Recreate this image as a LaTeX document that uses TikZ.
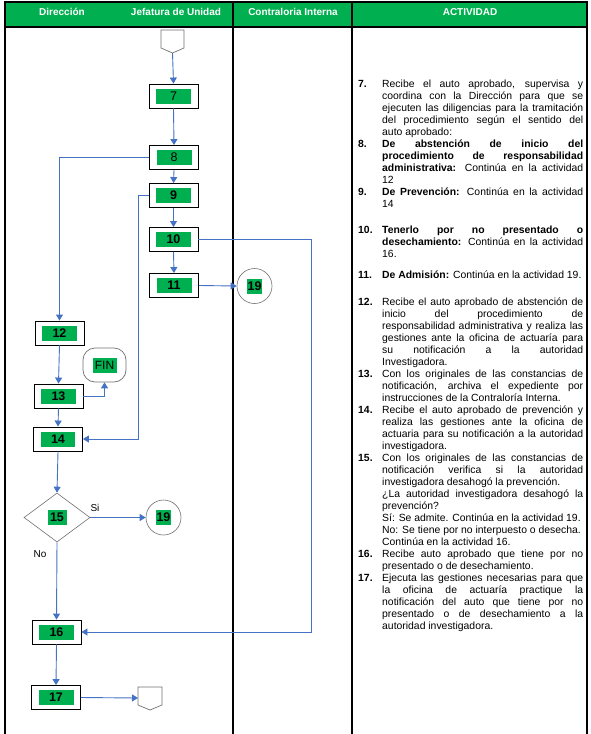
\documentclass[tikz,border=0pt]{standalone}
\usepackage{fontspec}
\setmainfont{Liberation Sans}
\usetikzlibrary{arrows.meta,shapes.geometric}
\definecolor{hgreen}{HTML}{00B050}
\definecolor{lblue}{HTML}{4472C4}
\definecolor{sgray}{HTML}{707070}
\setlength{\fboxsep}{0pt}
\newcommand\gl[2]{\colorbox{hgreen}{\parbox[c][15pt][c]{#1}{\centering #2}}}
\newcommand\actitem[2]{\par\noindent\hangindent=24pt\hangafter=1\makebox[24pt][l]{\textbf{#1}}#2\par}
\begin{document}
\begin{tikzpicture}[x=1pt,y=-1pt,
  tbl/.style={line width=1.1pt,black},
  hdr/.style={text=white,font=\fontsize{10}{12}\selectfont\bfseries,anchor=base,inner sep=0pt},
  actbox/.style={draw=black,line width=0.9pt,fill=white,minimum width=49pt,minimum height=24pt,inner sep=0pt,font=\fontsize{12.5}{13}\selectfont\bfseries},
  circ/.style={circle,draw=sgray,line width=0.6pt,minimum size=35pt,inner sep=0pt,font=\fontsize{12.5}{13}\selectfont\bfseries},
  offpage/.style={draw=sgray,line width=0.7pt,fill=white},
  flow/.style={draw=lblue,line width=0.9pt,-{Triangle[width=7pt,length=6pt]}},
  lbl/.style={font=\fontsize{10}{12}\selectfont,inner sep=0pt},
  acttext/.style={anchor=north west,inner sep=0pt,text width=225pt,align=justify,font=\fontsize{10.4}{12}\selectfont}]
\useasboundingbox (0,0) rectangle (590,734);
% table
\fill[hgreen] (5,2) rectangle (587,27);
\draw[tbl] (5,734) -- (5,2) -- (587,2) -- (587,734);
\draw[tbl] (5,27) -- (587,27);
\draw[tbl] (233,2) -- (233,734);
\draw[tbl] (352,2) -- (352,734);
\node[hdr] (h1) at (62,15.5) {Dirección};
\node[hdr] (h2) at (176,15.5) {Jefatura de Unidad};
\node[hdr] (h3) at (293,15.5) {Contraloria Interna};
\node[hdr] (h4) at (470,15.5) {ACTIVIDAD};
% off-page connectors
\draw[offpage] (161,30) -- (184,30) -- (184,48) -- (172.5,53) -- (161,48) -- cycle;
\coordinate (op1) at (172.5,53);
\draw[offpage] (138,687) -- (162,687) -- (162,705) -- (150,710) -- (138,705) -- cycle;
\coordinate (op2) at (138,698);
% boxes
\node[actbox,font=\fontsize{12.5}{13}\selectfont] (b7) at (173.5,96) {\gl{35pt}{7}};
\node[actbox,font=\fontsize{12.5}{13}\selectfont] (b8) at (174,157.5) {\gl{35pt}{8}};
\node[actbox] (b9) at (173.5,195.5) {\gl{35pt}{9}};
\node[actbox] (b10) at (173.5,239.5) {\gl{35pt}{10}};
\node[actbox] (b11) at (174,285.5) {\gl{35pt}{11}};
\node[actbox] (b12) at (59.5,333) {\gl{35pt}{12}};
\node[actbox] (b13) at (58.5,396) {\gl{35pt}{13}};
\node[actbox] (b14) at (58,439) {\gl{35pt}{14}};
\node[actbox] (b16) at (56.5,632) {\gl{35pt}{16}};
\node[actbox] (b17) at (56,697.5) {\gl{35pt}{17}};
\node[circ] (c19a) at (254.5,286) {\gl{15pt}{19}};
\node[circ] (c19b) at (163.5,517.5) {\gl{15pt}{19}};
\node[draw=sgray,line width=0.7pt,rounded corners=12pt,minimum width=43pt,minimum height=34pt,inner sep=0pt,font=\fontsize{12}{13}\selectfont] (fin) at (104.5,365) {\gl{24pt}{FIN}};
\node[diamond,draw=sgray,line width=0.6pt,minimum width=66pt,minimum height=49pt,inner sep=0pt,font=\fontsize{12.5}{13}\selectfont\bfseries] (d15) at (57,517.5) {\gl{19pt}{15}};
\node[lbl] (lsi) at (95,508) {Si};
\node[lbl] (lno) at (40,554) {No};
% connectors
\draw[flow] (op1) -- (b7.north);
\draw[flow] (b7.south) -- (b8.north);
\draw[flow] (b8.west) -| (b12.north);
\draw[flow] (b8.south) -- (b9.north);
\coordinate (c9) at (138,0);
\draw[flow] (b9.west) -- (b9.west -| c9) |- (b14.east);
\draw[flow] (b9.south) -- (b10.north);
\coordinate (c10) at (311,0);
\draw[flow] (b10.east) -- (b10.east -| c10) |- (b16.east);
\draw[flow] (b10.south) -- (b11.north);
\draw[flow] (b11.east) -- (c19a.west);
\draw[flow] (b12.south) -- (b13.north);
\draw[flow] (b13.east) -| (fin.south);
\draw[flow] (b13.south) -- (b14.north);
\draw[flow] (b14.south) -- (d15.north);
\draw[flow] (d15.east) -- (c19b.west);
\draw[flow] (d15.south) -- (b16.north);
\draw[flow] (b16.south) -- (b17.north);
\draw[flow] (b17.east) -- (op2);
% activity text
\node[acttext] (txt) at (358,75.6) {%
\actitem{7.}{\strut Recibe el auto aprobado, supervisa y\linebreak coordina con la Dirección para que se\linebreak ejecuten las diligencias para la tramitación\linebreak del procedimiento según el sentido del\linebreak auto aprobado:}%
\actitem{8.}{\textbf{De abstención de inicio del\linebreak procedimiento de responsabilidad\linebreak administrativa:} Continúa en la actividad\linebreak 12}%
\actitem{9.}{\textbf{De Prevención:} Continúa en la actividad\linebreak 14}%
\vspace{14pt}%
\actitem{10.}{\textbf{Tenerlo por no presentado o\linebreak desechamiento:} Continúa en la actividad\linebreak 16.}%
\vspace{9pt}%
\actitem{11.}{\textbf{De Admisión:} Continúa en la actividad 19.}%
\vspace{15pt}%
\actitem{12.}{Recibe el auto aprobado de abstención de\linebreak inicio del procedimiento de\linebreak responsabilidad administrativa y realiza las\linebreak gestiones ante la oficina de actuaría para\linebreak su notificación a la autoridad\linebreak Investigadora.}%
\actitem{13.}{Con los originales de las constancias de\linebreak notificación, archiva el expediente por\linebreak instrucciones de la Contraloría Interna.}%
\actitem{14.}{Recibe el auto aprobado de prevención y\linebreak realiza las gestiones ante la oficina de\linebreak actuaria para su notificación a la autoridad\linebreak investigadora.}%
\actitem{15.}{Con los originales de las constancias de\linebreak notificación verifica si la autoridad\linebreak investigadora desahogó la prevención.\newline ¿La autoridad investigadora desahogó la\linebreak prevención?\newline Sí: Se admite. Continúa en la actividad 19.\newline No: Se tiene por no interpuesto o desecha.\newline Continúa en la actividad 16.}%
\actitem{16.}{Recibe auto aprobado que tiene por no\linebreak presentado o de desechamiento.}%
\actitem{17.}{Ejecuta las gestiones necesarias para que\linebreak la oficina de actuaría practique la\linebreak notificación del auto que tiene por no\linebreak presentado o de desechamiento a la\linebreak autoridad investigadora.}%
};
\end{tikzpicture}
\end{document}
